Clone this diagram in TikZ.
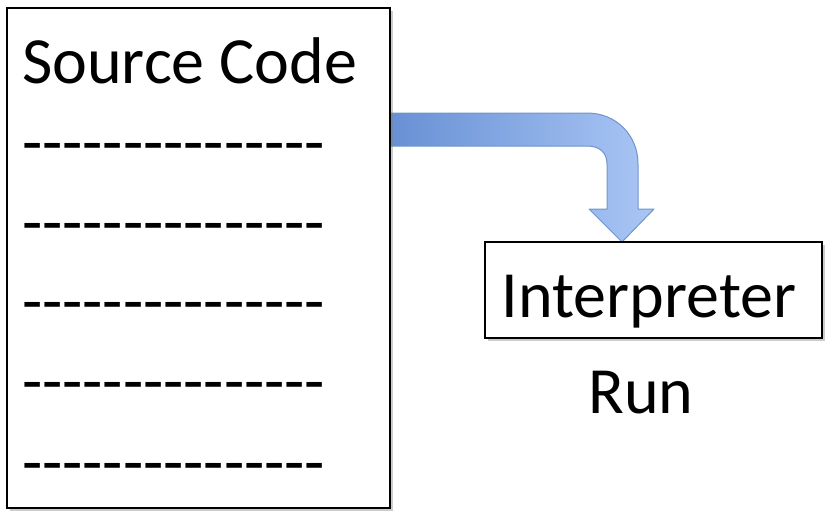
\documentclass[tikz,border=0pt]{standalone}
\usepackage{fontspec}
\setmainfont{Carlito}[Ligatures=TeXOff]
\usetikzlibrary{shadows,positioning}

\definecolor{arrowdark}{HTML}{6790D4}
\definecolor{arrowlight}{HTML}{AAC6F5}
\definecolor{arrowline}{HTML}{7094CC}

\begin{document}
\begin{tikzpicture}[
    x=1pt, y=-1pt,
    box/.style={draw, line width=1.5pt, fill=white, inner sep=0pt,
        drop shadow={shadow xshift=3pt, shadow yshift=-3pt, opacity=0.4}},
    label/.style={font=\fontsize{66}{78}\selectfont, inner sep=0pt, anchor=base west},
    codeline/.style={label}
]
\useasboundingbox (0,0) rectangle (838,523);

% moving arrow
\path[shading=axis, left color=arrowdark, right color=arrowlight,
      draw=arrowline, line width=1pt, line join=round]
    (390,113) -- (587,113) .. controls (616,113) and (638,135) .. (638,164)
    -- (638,209) -- (654,209) -- (622,242) -- (589,209) -- (607,209)
    -- (607,164) .. controls (607,152) and (599,146) .. (587,146)
    -- (390,146) -- cycle;

% source file
\node[box, minimum width=383pt, minimum height=500pt] (source) at (198.5,258) {};
\node[label] (title) at (22,83) {Source Code};
\foreach \row/\y in {1/164,2/244,3/323,4/403,5/484}
    \node[codeline] (line\row) at (22,\y) {---------------};

% interpreter
\node[box, minimum width=337pt, minimum height=96pt] (interp) at (653.5,290) {};
\node[label, anchor=base] (interptext) at (649,317) {Interpreter};
\node[label, anchor=base] (run) at (641,413) {Run};

\end{tikzpicture}
\end{document}
